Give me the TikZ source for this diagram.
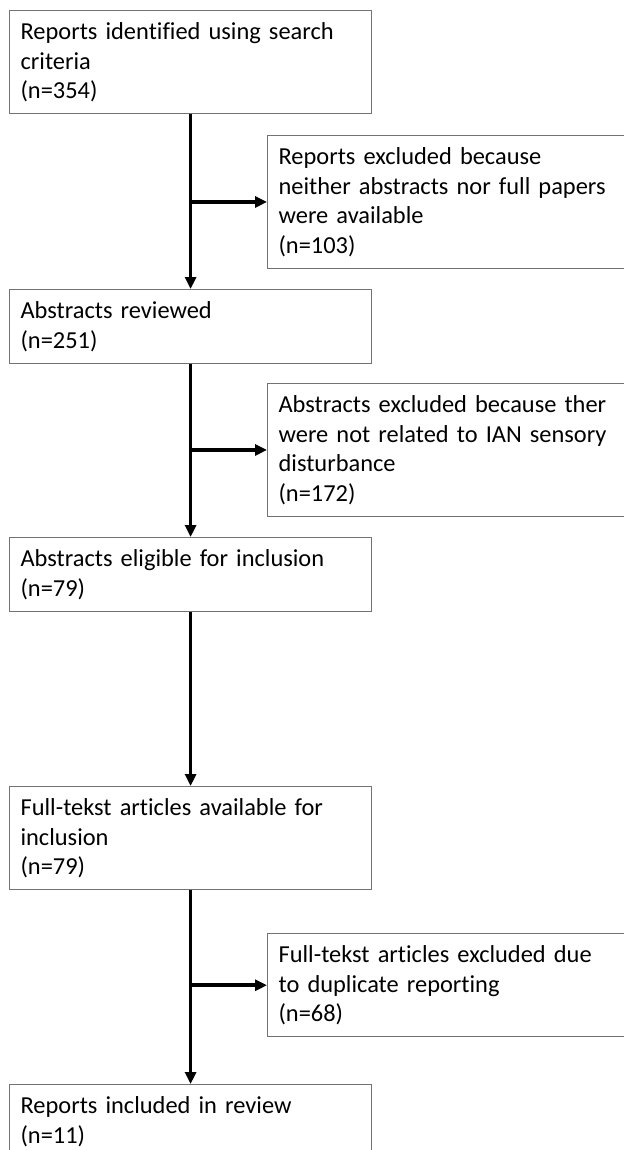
\documentclass[tikz,border=0pt]{standalone}
\usepackage{fontspec}
\setmainfont{Carlito}[Ligatures=NoCommon]
\usetikzlibrary{arrows.meta, positioning}
\tikzset{
	box/.style={draw=black!55, line width=0.6pt, anchor=north west, align=left,
		text width=170pt, inner xsep=5.5pt, inner ysep=3.1pt,
		font=\fontsize{12.2}{14.75}\selectfont,
		execute at begin node=\rule{0pt}{11.5pt}, execute at end node=\strut}, % the text boxes
	flow/.style={-{Triangle[length=6pt,width=5.5pt]}, line width=1.75pt}, % the thick black arrows
}
\begin{document}
\begin{tikzpicture}[x=0.5pt, y=-0.5pt]
	\useasboundingbox (0,0) rectangle (624,1150);
	\node[box] (b1) at (9,10) {Reports identified using search\\criteria\\(n=354)};
	\node[box] (b2) at (267,135) {Reports excluded because\\neither abstracts nor full papers\\were available\\(n=103)};
	\node[box] (b3) at (9,289) {Abstracts reviewed\\(n=251)};
	\node[box] (b4) at (267,383) {Abstracts excluded because ther\\were not related to IAN sensory\\disturbance\\(n=172)};
	\node[box] (b5) at (9,537) {Abstracts eligible for inclusion\\(n=79)};
	\node[box] (b6) at (9,786) {Full-tekst articles available for\\inclusion\\(n=79)};
	\node[box] (b7) at (267,933) {Full-tekst articles excluded due\\to duplicate reporting\\(n=68)};
	\node[box] (b8) at (9,1084) {Reports included in review\\(n=11)};
	
	\draw[flow] (b1.south) -- (b3.north);
	\draw[flow] (b1.south |- b2.west) -- (b2.west);
	%
	\draw[flow] (b3.south) -- (b5.north);
	\draw[flow] (b3.south |- b4.west) -- (b4.west);
	%
	\draw[flow] (b5.south) -- (b6.north);
	%
	\draw[flow] (b6.south) -- (b8.north);
	\draw[flow] (b6.south |- b7.west) -- (b7.west);
\end{tikzpicture}
\end{document}
